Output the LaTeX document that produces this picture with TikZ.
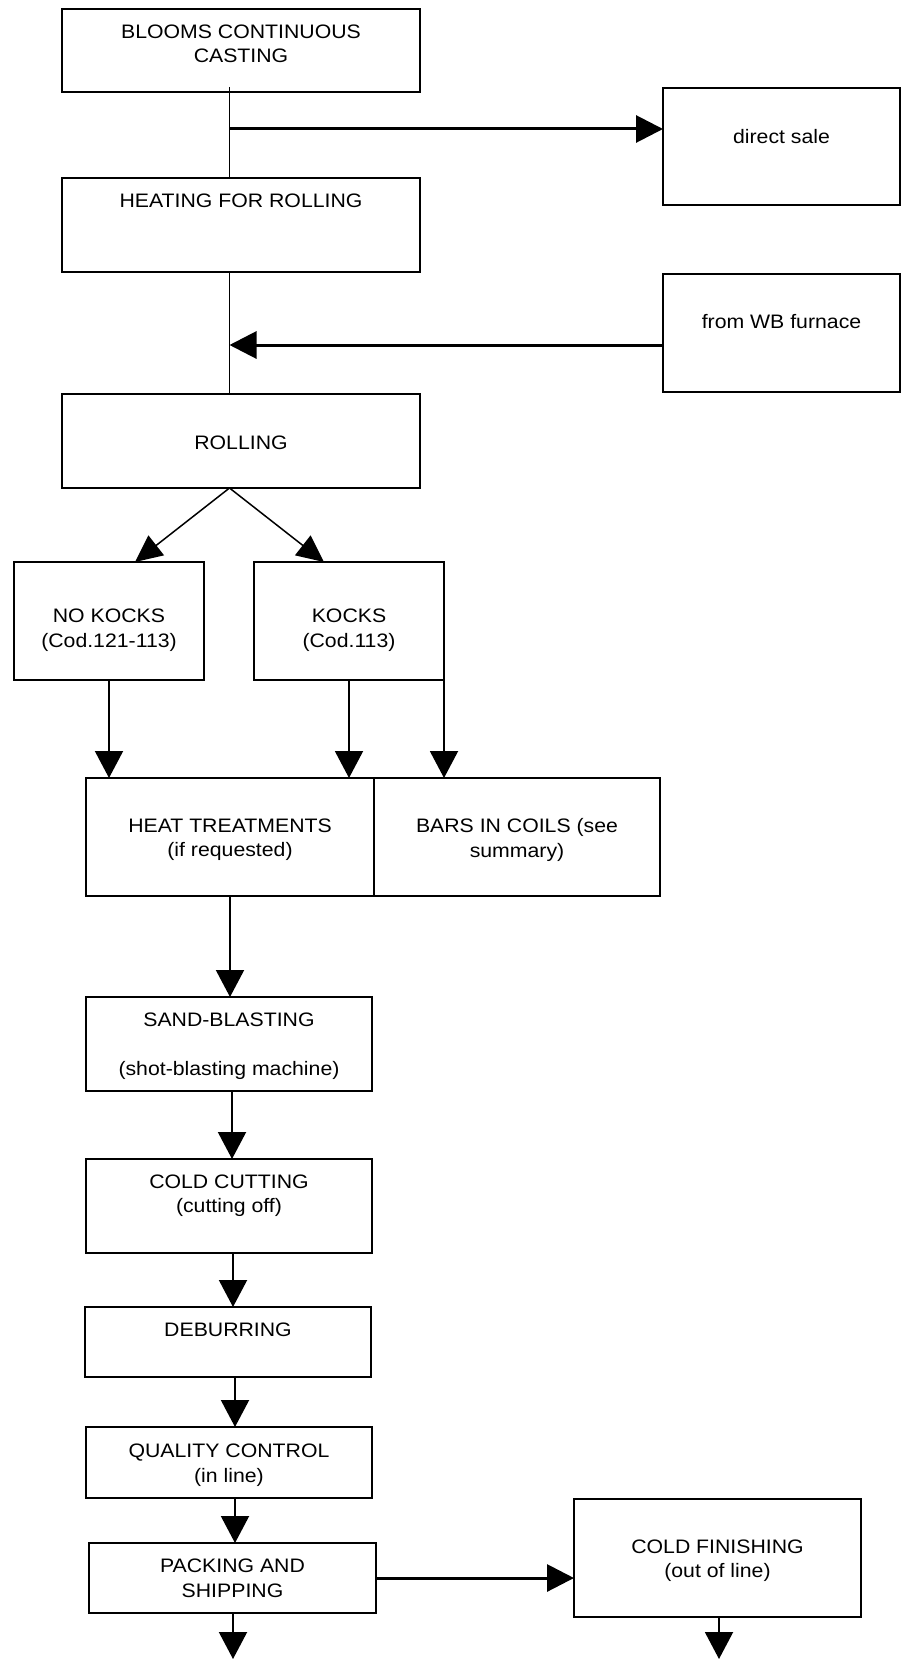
\documentclass[tikz,border=0pt]{standalone}
\usepackage{fontspec}
\setmainfont{Liberation Sans}[FakeStretch=1.09]
\usepackage{tikz}
\usetikzlibrary{arrows.meta}

\begin{document}
\begin{tikzpicture}[x=1pt,y=-1pt,
            box/.style = {rectangle,
                        draw=black,
                        line width=2pt,
                        outer sep=0pt,
                        inner sep=0pt},
            txt/.style = {align=center,
                        inner sep=0pt,
                        font=\fontsize{19.5}{24.5}\selectfont},
            link/.style = {line width=1.5pt},
            flow/.style = {line width=2pt,
                        -{Triangle[length=27pt,width=28pt]}},
            split/.style = {line width=1.5pt,
                        -{Triangle[length=27pt,width=25pt]}},
            branch/.style = {line width=3pt,
                        -{Triangle[length=27pt,width=27pt]}}]
            \useasboundingbox (0,0) rectangle (903,1659);
            % Casting and heating
            \node[box,minimum width=358pt,minimum height=83pt,
                  label={[txt,below=15.3pt]north:{BLOOMS CONTINUOUS\\CASTING}}] (cast) at (241,50.5) {};
            \node[box,minimum width=237pt,minimum height=117pt,
                  label={[txt,below=40.7pt]north:{direct sale}}] (sale) at (781.5,146.5) {};
            \node[box,minimum width=358pt,minimum height=94pt,
                  label={[txt,below=16pt]north:{HEATING FOR ROLLING}}] (heat) at (241,225) {};
            \node[box,minimum width=237pt,minimum height=118pt,
                  label={[txt,below=40pt]north:{from WB furnace}}] (wb) at (781.5,333) {};
            % Rolling
            \node[box,minimum width=358pt,minimum height=94pt,
                  label={[txt,below=41.3pt]north:{ROLLING}}] (roll) at (241,441) {};
            \node[box,minimum width=190pt,minimum height=118pt,
                  label={[txt,below=46.7pt]north:{NO KOCKS\\(Cod.121-113)}}] (nokocks) at (109,621) {};
            \node[box,minimum width=190pt,minimum height=118pt,
                  label={[txt,below=46.7pt]north:{KOCKS\\(Cod.113)}}] (kocks) at (349,621) {};
            \node[box,minimum width=288pt,minimum height=118pt,
                  label={[txt,below=40.3pt]north:{HEAT TREATMENTS\\(if requested)}}] (treat) at (230,837) {};
            \node[box,minimum width=286pt,minimum height=118pt,
                  label={[txt,below=40.3pt]north:{BARS IN COILS (see\\summary)}}] (coils) at (517,837) {};
            % Finishing line
            \node[box,minimum width=286pt,minimum height=94pt,
                  label={[txt,below=15.7pt]north:{SAND-BLASTING\\[24.5pt](shot-blasting machine)}}] (sand) at (229,1044) {};
            \node[box,minimum width=286pt,minimum height=94pt,
                  label={[txt,below=15.3pt]north:{COLD CUTTING\\(cutting off)}}] (cut) at (229,1206) {};
            \node[box,minimum width=286pt,minimum height=70pt,
                  label={[txt,below=15.7pt]north:{DEBURRING}}] (deburr) at (228,1342) {};
            \node[box,minimum width=286pt,minimum height=71pt,
                  label={[txt,below=16.7pt]north:{QUALITY CONTROL\\(in line)}}] (qc) at (229,1462.5) {};
            \node[box,minimum width=287pt,minimum height=70pt,
                  label={[txt,below=15.7pt]north:{PACKING AND\\SHIPPING}}] (pack) at (232.5,1578) {};
            \node[box,minimum width=287pt,minimum height=118pt,
                  label={[txt,below=40.3pt]north:{COLD FINISHING\\(out of line)}}] (cfin) at (717.5,1558) {};
            % Branch points and free ends
            \coordinate (fork1) at (229.5,129);
            \coordinate (fork2) at (229.5,345);
            \coordinate (packout) at (233,1659);
            \coordinate (finout) at (719,1659);
            % Main spine
            \draw[link] ([xshift=-11.5pt,yshift=5pt]cast.south) -- ([xshift=-11.5pt]heat.north);
            \draw[link] ([xshift=-11.5pt]heat.south) -- ([xshift=-11.5pt]roll.north);
            \draw[branch] (fork1) -- (fork1 -| sale.west);
            \draw[branch] (fork2 -| wb.west) -- (fork2);
            % Rolling outputs
            \draw[split] ([xshift=-11.5pt]roll.south) -- ([xshift=26pt]nokocks.north);
            \draw[split] ([xshift=-11.5pt]roll.south) -- ([xshift=-25pt]kocks.north);
            \draw[flow] (nokocks.south) -- (nokocks.south |- treat.north);
            \draw[flow] (kocks.south) -- (kocks.south |- treat.north);
            \draw[flow] (kocks.south east) -- (kocks.south east |- coils.north);
            % Down the line
            \draw[flow] (treat.south) -- (treat.south |- sand.north);
            \draw[flow] ([xshift=3pt]sand.south) -- ([xshift=3pt]sand.south |- cut.north);
            \draw[flow] ([xshift=4pt]cut.south) -- ([xshift=4pt]cut.south |- deburr.north);
            \draw[flow] ([xshift=7pt]deburr.south) -- ([xshift=7pt]deburr.south |- qc.north);
            \draw[flow] ([xshift=6pt]qc.south) -- ([xshift=6pt]qc.south |- pack.north);
            \draw[branch] (pack.east) -- (pack.east -| cfin.west);
            \draw[flow] (pack.south -| packout) -- (packout);
            \draw[flow] (cfin.south -| finout) -- (finout);
        \end{tikzpicture}
\end{document}
